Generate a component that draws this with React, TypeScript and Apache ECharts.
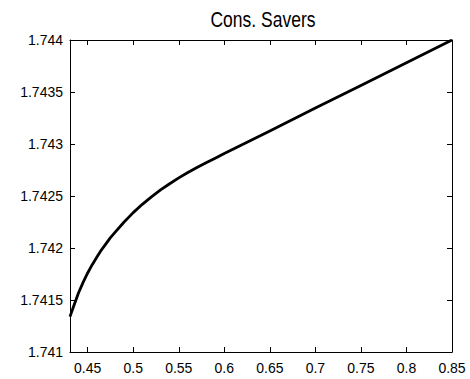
import React, { useEffect, useRef } from "react";
import * as echarts from "echarts";

const xValues = [0.4306, 0.435, 0.44, 0.445, 0.45, 0.455, 0.46, 0.465, 0.47, 0.475, 0.48, 0.49, 0.5, 0.51, 0.52, 0.53, 0.54, 0.55, 0.56, 0.57, 0.58, 0.59, 0.6, 0.65, 0.7, 0.75, 0.8, 0.85];
const yValues = [1.74134, 1.74145, 1.74157, 1.74167, 1.74176, 1.74184, 1.74191, 1.74198, 1.74204, 1.7421, 1.74215, 1.74225, 1.74234, 1.74242, 1.742492, 1.742558, 1.742618, 1.742674, 1.742726, 1.742774, 1.74282, 1.742864, 1.742908, 1.743126, 1.743345, 1.743563, 1.743782, 1.744];
const xTicks = [0.45, 0.5, 0.55, 0.6, 0.65, 0.7, 0.75, 0.8, 0.85];
const title = "Cons. Savers";

const FONT = "'Liberation Sans', Arial, Helvetica, sans-serif";

export default function App() {
  const ref = useRef<HTMLDivElement>(null);
  useEffect(() => {
    if (!ref.current) return;
    const chart = echarts.init(ref.current, null, { renderer: "svg" });
    const data = xValues.map((x, i) => [x, yValues[i]]);
    const fmtY = (v: number) => String(+v.toFixed(4));
    const fmtX = (v: number) => String(+v.toFixed(2));
    const baseX = {
      type: "value",
      min: 0.4306,
      max: 0.85,
      axisLine: { show: true, onZero: false, lineStyle: { color: "#000", width: 1 } },
      axisTick: { show: true, inside: true, length: 5, customValues: xTicks, lineStyle: { color: "#000" } },
      splitLine: { show: false },
    };
    const baseY = {
      type: "value",
      min: 1.741,
      max: 1.744,
      interval: 0.0005,
      axisLine: { show: true, onZero: false, lineStyle: { color: "#000", width: 1 } },
      axisTick: { show: true, inside: true, length: 5, lineStyle: { color: "#000" } },
      splitLine: { show: false },
    };
    chart.setOption({
      animation: false,
      backgroundColor: "#fff",
      graphic: [
        {
          type: "text",
          x: 263,
          y: 30,
          scaleY: 1.22,
          style: {
            text: title,
            fontFamily: FONT,
            fontSize: 17.5,
            fill: "#000",
            align: "center",
            verticalAlign: "bottom",
          },
        },
      ],
      grid: { left: 70, right: 18, top: 40, bottom: 27, containLabel: false },
      xAxis: [
        {
          ...baseX,
          position: "bottom",
          axisLabel: {
            show: true,
            customValues: xTicks,
            formatter: fmtX,
            color: "#000",
            fontFamily: FONT,
            fontSize: 14,
            margin: 9,
          },
        },
        { ...baseX, position: "top", axisLabel: { show: false } },
      ],
      yAxis: [
        {
          ...baseY,
          position: "left",
          axisLabel: {
            show: true,
            formatter: fmtY,
            color: "#000",
            fontFamily: FONT,
            fontSize: 14,
            margin: 7,
          },
        },
        { ...baseY, position: "right", axisLabel: { show: false } },
      ],
      series: [
        {
          type: "line",
          data,
          xAxisIndex: 0,
          yAxisIndex: 0,
          showSymbol: false,
          smooth: false,
          lineStyle: { color: "#000", width: 2.8, join: "round" },
          clip: true,
        },
      ],
    });
    return () => chart.dispose();
  }, []);
  return <div ref={ref} style={{ width: 470, height: 379, position: "absolute", left: 0, top: 0 }} />;
}
